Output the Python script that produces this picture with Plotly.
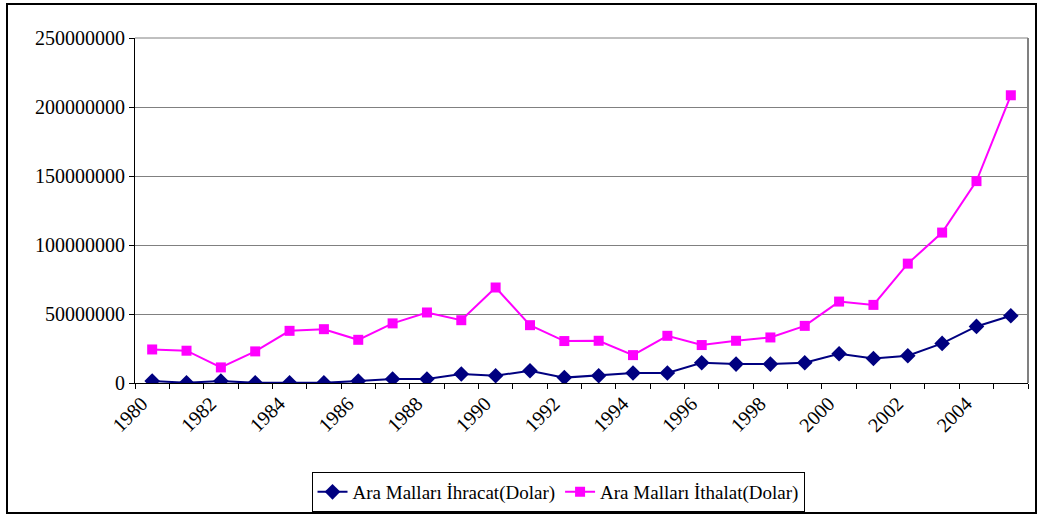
import plotly.graph_objects as go

years = list(range(1980, 2006))
ihracat = [1.4e6, 0.2e6, 1.4e6, 0.1e6, 0.1e6, 0.1e6, 1.4e6, 2.9e6, 2.9e6, 6.5e6, 5.3e6, 8.9e6, 3.9e6,
           5.3e6, 7.2e6, 7.2e6, 14.7e6, 13.7e6, 13.7e6, 14.7e6, 21.2e6, 17.8e6, 19.7e6, 28.7e6, 41.0e6, 48.7e6]
ithalat = [24.3e6, 23.4e6, 11.3e6, 22.9e6, 37.8e6, 39.0e6, 31.3e6, 43.2e6, 51.1e6, 45.5e6, 69.2e6, 41.9e6, 30.4e6,
           30.6e6, 20.2e6, 34.2e6, 27.5e6, 30.6e6, 33.0e6, 41.4e6, 59.0e6, 56.6e6, 86.5e6, 109.0e6, 146.3e6, 208.5e6]
tick_years = years[::2]
tick_labels = [str(y) for y in tick_years]
names = ["Ara Malları İhracat(Dolar)", "Ara Malları İthalat(Dolar)"]

FONT = "Liberation Serif, Times New Roman, serif"

fig = go.Figure()
fig.add_trace(go.Scatter(x=years, y=ihracat, name=names[0], mode="lines+markers",
                         line=dict(color="#000080", width=2),
                         marker=dict(symbol="diamond", size=12, color="#000080")))
fig.add_trace(go.Scatter(x=years, y=ithalat, name=names[1], mode="lines+markers",
                         line=dict(color="#FF00FF", width=2),
                         marker=dict(symbol="square", size=10, color="#FF00FF")))

fig.update_layout(
    width=1042, height=515,
    margin=dict(l=135, r=14, t=38, b=132, autoexpand=False),
    paper_bgcolor="white", plot_bgcolor="white",
    font=dict(family=FONT, size=20, color="black"),
    showlegend=True,
    legend=dict(orientation="h", x=0.4737, xanchor="center", y=-0.258, yanchor="top",
                bordercolor="black", borderwidth=1, font=dict(family=FONT, size=19),
                itemwidth=30, tracegroupgap=0),
    xaxis=dict(range=[1979.5, 2005.5], tickmode="array",
               tickvals=[y - 0.3 for y in tick_years], ticktext=tick_labels,
               tickangle=-45, ticks="", showgrid=False, zeroline=False,
               showline=True, linecolor="black", linewidth=1,
               minor=dict(tickmode="array", tickvals=[y - 0.5 for y in years] + [2005.5],
                          ticks="outside", ticklen=5, tickcolor="black", showgrid=False)),
    yaxis=dict(range=[0, 250e6], dtick=50e6, tickformat="d",
               ticks="outside", ticklen=5, tickcolor="black",
               showgrid=True, gridcolor="#808080", gridwidth=1, zeroline=False,
               showline=True, linecolor="black", linewidth=1),
)

# top and right border of plot area
fig.add_shape(type="line", xref="paper", yref="paper", x0=0, x1=1, y0=1, y1=1,
              line=dict(color="#808080", width=1))
fig.add_shape(type="line", xref="paper", yref="paper", x0=1, x1=1, y0=0, y1=1,
              line=dict(color="#808080", width=2))
# outer chart border
fig.add_shape(type="rect", xref="paper", yref="paper",
              x0=(7 - 135) / 893, x1=(1036 - 135) / 893,
              y0=(383 - 513) / 345, y1=(383 - 4) / 345,
              line=dict(color="black", width=2), layer="below")

fig.write_html("out.html", config={"displayModeBar": False},
               post_script="document.body.style.margin='0';")
